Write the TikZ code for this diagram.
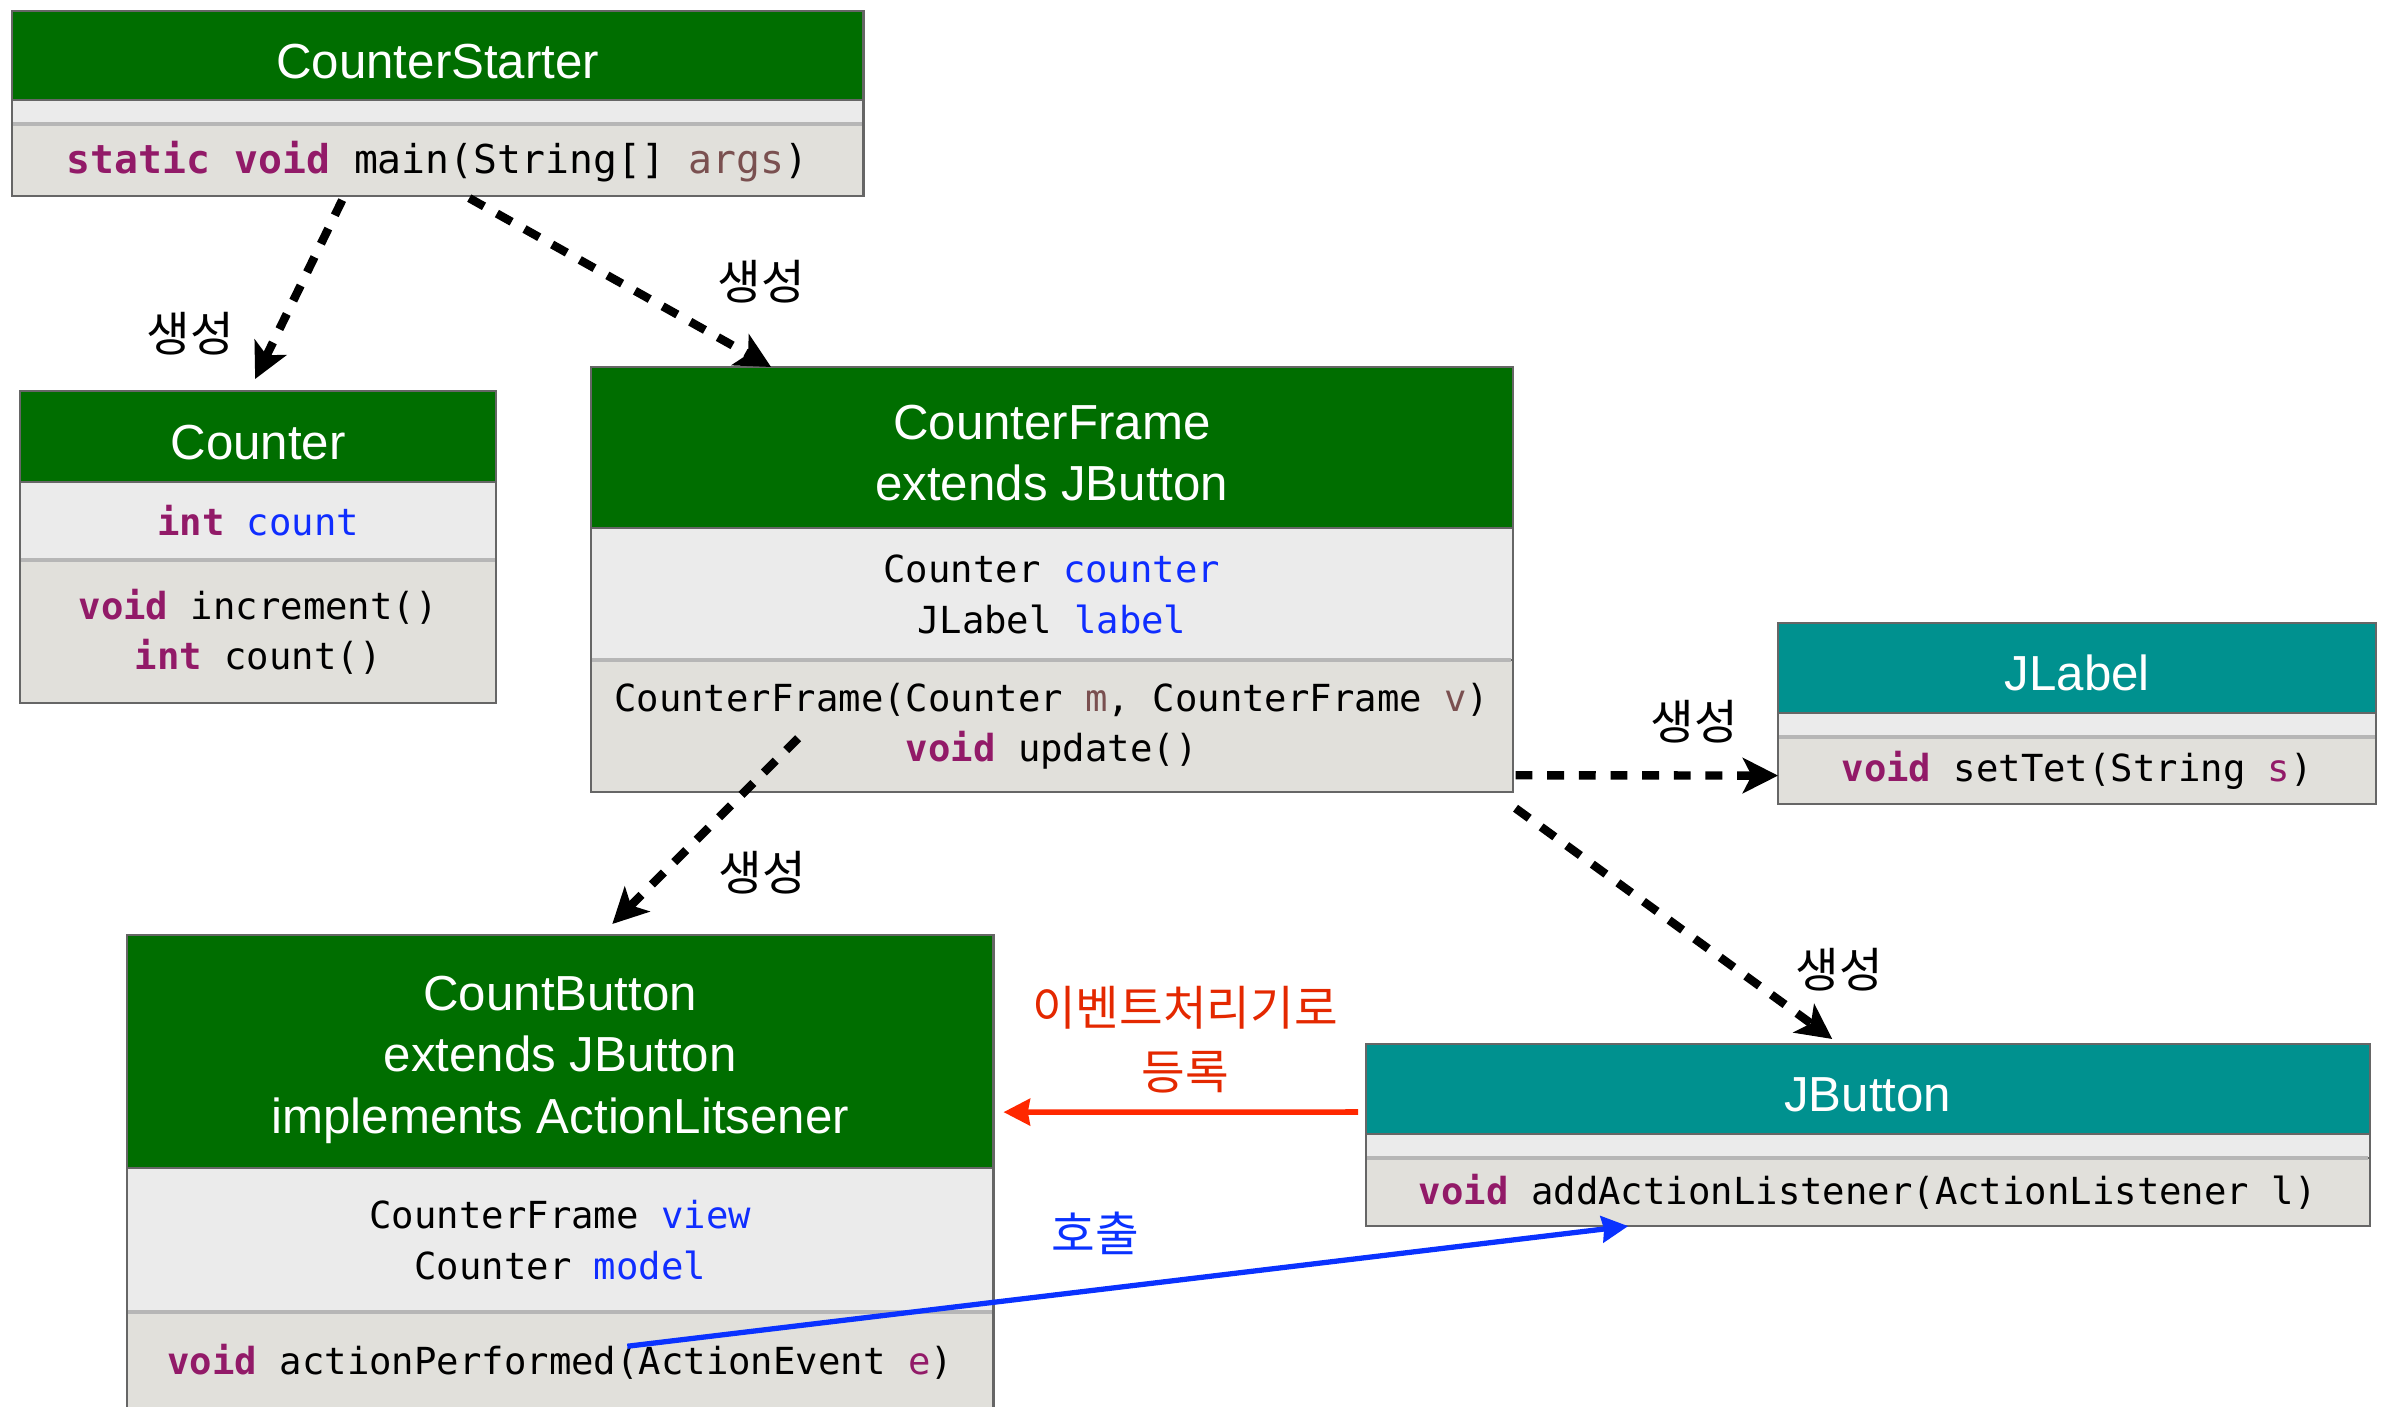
\documentclass[tikz,border=0pt]{standalone}
\usepackage{fontspec}
\setsansfont{Liberation Sans}
\setmonofont{DejaVu Sans Mono}
\newfontfamily\kr{Noto Sans CJK KR}
\usetikzlibrary{arrows.meta}

\definecolor{hdrgreen}{RGB}{0,110,0}
\definecolor{hdrteal}{RGB}{0,145,143}
\definecolor{attrfill}{RGB}{235,235,235}
\definecolor{methfill}{RGB}{225,224,219}
\definecolor{edgegray}{RGB}{102,102,102}
\definecolor{sepgray}{RGB}{182,182,182}
\definecolor{kwc}{RGB}{146,26,104}
\definecolor{fldc}{RGB}{15,45,255}
\definecolor{prmc}{RGB}{122,80,80}
\definecolor{redarrow}{RGB}{255,40,0}
\definecolor{redtext}{RGB}{228,40,0}
\definecolor{bluearrow}{RGB}{10,50,255}

\newcommand\kw[1]{\textcolor{kwc}{\bfseries #1}}
\newcommand\fld[1]{\textcolor{fldc}{#1}}
\newcommand\prm[1]{\textcolor{prmc}{#1}}
\newcommand\hs{\rule{0pt}{13pt}}

\tikzset{
  clsbox/.style={anchor=north west, inner sep=0pt, outer sep=0pt, draw=edgegray, line width=0.6pt, align=center},
  hdr/.style={clsbox, fill=hdrgreen, text=white, font=\sffamily\fontsize{14}{17.4}\selectfont},
  hdrteal/.style={hdr, fill=hdrteal},
  attrbox/.style={clsbox, fill=attrfill, font=\ttfamily\fontsize{10.6}{14.4}\selectfont},
  methbox/.style={attrbox, fill=methfill},
  sep/.style={sepgray, line width=1pt, shorten <=0.4pt, shorten >=0.4pt},
  mk/.style={-{Stealth[length=10pt,width=10pt,inset=2.5pt]}, line width=2.4pt, dash pattern=on 4.8pt off 4.2pt},
  lbl/.style={font=\kr\fontsize{13.5}{18.2}\selectfont},
}

\begin{document}
\begin{tikzpicture}[x=0.01cm, y=-0.01cm]
  \useasboundingbox (0,0) rectangle (2383,1406);

  % CounterStarter
  \node[hdr, minimum width=8.51cm, minimum height=0.89cm] (starter) at (12,11) {\hs CounterStarter};
  \node[attrbox, minimum width=8.51cm, minimum height=0.24cm] (starter-a) at (starter.south west) {};
  \node[methbox, minimum width=8.51cm, minimum height=0.72cm, font=\ttfamily\fontsize{11.3}{14.4}\selectfont] (starter-m) at (starter-a.south west)
    {\rule{0pt}{10pt}\kw{static void} main(String[] \prm{args})};
  \draw[sep] (starter-a.south west) -- (starter-a.south east);

  % Counter
  \node[hdr, minimum width=4.76cm, minimum height=0.91cm] (counter) at (20,391) {\hs Counter};
  \node[attrbox, minimum width=4.76cm, minimum height=0.78cm] (counter-a) at (counter.south west) {\kw{int} \fld{count}};
  \node[methbox, minimum width=4.76cm, minimum height=1.43cm] (counter-m) at (counter-a.south west)
    {\kw{void} increment()\\\kw{int} count()};
  \draw[sep] (counter-a.south west) -- (counter-a.south east);

  % CounterFrame
  \node[hdr, minimum width=9.21cm, minimum height=1.61cm] (frame) at (591,367) {\hs CounterFrame\\extends JButton};
  \node[attrbox, minimum width=9.21cm, minimum height=1.32cm] (frame-a) at (frame.south west)
    {Counter \fld{counter}\\JLabel \fld{label}};
  \node[methbox, minimum width=9.21cm, minimum height=1.32cm] (frame-m) at (frame-a.south west)
    {CounterFrame(Counter \prm{m}, CounterFrame \prm{v})\\\kw{void} update()};
  \draw[sep] (frame-a.south west) -- (frame-a.south east);

  % JLabel
  \node[hdrteal, minimum width=5.98cm, minimum height=0.90cm] (jlabel) at (1778,623) {\hs JLabel};
  \node[attrbox, minimum width=5.98cm, minimum height=0.24cm] (jlabel-a) at (jlabel.south west) {};
  \node[methbox, minimum width=5.98cm, minimum height=0.67cm] (jlabel-m) at (jlabel-a.south west)
    {\kw{void} setTet(String \textcolor{kwc}{s})};
  \draw[sep] (jlabel-a.south west) -- (jlabel-a.south east);

  % CountButton
  \node[hdr, minimum width=8.66cm, minimum height=2.33cm] (cbutton) at (127,935)
    {\rule{0pt}{14.5pt}CountButton\\extends JButton\\implements ActionLitsener};
  \node[attrbox, minimum width=8.66cm, minimum height=1.44cm] (cbutton-a) at (cbutton.south west)
    {CounterFrame \fld{view}\\Counter \fld{model}};
  \node[methbox, minimum width=8.66cm, minimum height=1.00cm] (cbutton-m) at (cbutton-a.south west)
    {\kw{void} actionPerformed(ActionEvent \textcolor{kwc}{e})};
  \draw[sep] (cbutton-a.south west) -- (cbutton-a.south east);

  % JButton
  \node[hdrteal, minimum width=10.03cm, minimum height=0.90cm] (jbutton) at (1366,1044) {\hs JButton};
  \node[attrbox, minimum width=10.03cm, minimum height=0.24cm] (jbutton-a) at (jbutton.south west) {};
  \node[methbox, minimum width=10.03cm, minimum height=0.68cm] (jbutton-m) at (jbutton-a.south west)
    {\kw{void} addActionListener(ActionListener l)};
  \draw[sep] (jbutton-a.south west) -- (jbutton-a.south east);

  % creation arrows
  \draw[mk] ([xshift=3.30cm,yshift=-0.04cm]starter-m.south west) -- ([xshift=-0.03cm,yshift=0.12cm]counter.north);
  \draw[mk] ([xshift=4.57cm,yshift=-0.02cm]starter-m.south west) -- ([xshift=1.80cm]frame.north west);
  \draw[mk] ([xshift=2.07cm,yshift=0.54cm]frame-m.south west) -- ([xshift=4.85cm,yshift=0.11cm]cbutton.north west);
  \draw[mk] ([xshift=0.03cm,yshift=0.17cm]frame-m.south east) -- ([yshift=-0.05cm]jlabel-m.west);
  \draw[mk] ([xshift=0.03cm,yshift=-0.16cm]frame-m.south east) -- ([xshift=4.66cm,yshift=0.05cm]jbutton.north west);

  \node[lbl] (lbl1) at (190,334) {생성};
  \node[lbl] (lbl2) at (761,282) {생성};
  \node[lbl] (lbl3) at (762,873) {생성};
  \node[lbl] (lbl4) at (1694,722) {생성};
  \node[lbl] (lbl5) at (1839,970) {생성};

  % register / call
  \draw[redarrow, line width=1.6pt, -{Stealth[length=7.5pt,width=7.5pt,inset=0.6pt]}]
    ([xshift=-0.08cm,yshift=0.22cm]jbutton.south west) -- ([xshift=0.10cm,yshift=0.56cm]cbutton.south east);
  \node[lbl, text=redtext, align=center] (reg) at (1185,1040) {이벤트처리기로\\등록};

  \draw[bluearrow, line width=1.5pt, -{Stealth[length=7.5pt,width=7.5pt,inset=0.6pt]}]
    ([xshift=5.00cm,yshift=-0.34cm]cbutton-m.north west) -- ([xshift=2.62cm]jbutton-m.south west);
  \node[lbl, text=bluearrow] (call) at (1095,1233) {호출};
\end{tikzpicture}
\end{document}
